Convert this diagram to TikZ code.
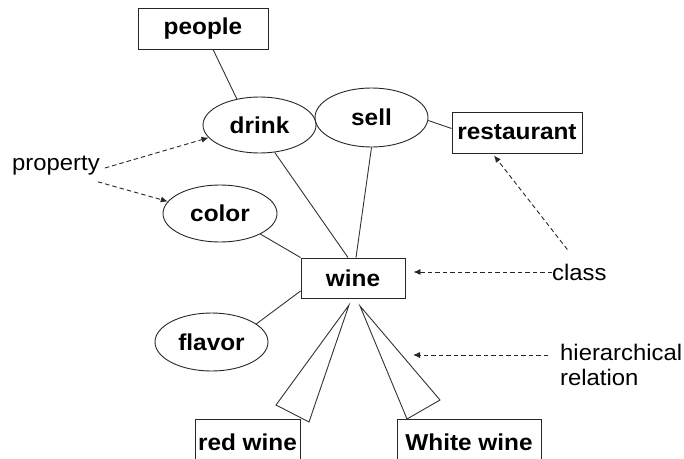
\documentclass[tikz,border=0pt]{standalone}
\usepackage{fontspec}
\setmainfont{Liberation Sans}[FakeStretch=1.06]
\usetikzlibrary{shapes.geometric,arrows.meta}
\begin{document}
\begin{tikzpicture}[x=1pt,y=-1pt,
  edge/.style={draw=black!80,line width=0.9pt},
  concept/.style={draw=black!85,line width=0.9pt,font=\fontsize{23}{25}\selectfont\bfseries,inner sep=0pt},
  box/.style={concept,rectangle},
  oval/.style={concept,ellipse},
  note/.style={font=\fontsize{22.5}{25}\selectfont,inner sep=0pt,align=left},
  pointer/.style={draw=black!85,line width=0.9pt,dash pattern=on 4.5pt off 3pt,-{Latex[length=7pt,width=6pt]}},
]
\useasboundingbox (0,0) rectangle (684,458);
\clip (0,0) rectangle (684,458);

% concepts
\node[box,minimum width=130,minimum height=41] (people) at (203,28.5) {people};
\node[oval,minimum width=113,minimum height=56] (drink) at (259.5,125) {drink};
\node[oval,minimum width=113,minimum height=59] (sell) at (371.5,117.5) {sell};
\node[box,minimum width=130,minimum height=41] (restaurant) at (517,132.5) {restaurant};
\node[oval,minimum width=114,minimum height=57] (color) at (220,213.5) {color};
\node[box,minimum width=104,minimum height=40] (wine) at (353,278) {wine};
\node[oval,minimum width=113,minimum height=58] (flavor) at (211.5,342) {flavor};
\node[box,anchor=north,minimum width=105,minimum height=46] (redwine) at (247.5,419) {red wine};
\node[box,anchor=north,minimum width=144,minimum height=46] (whitewine) at (469,419) {White wine};

% legend labels
\node[note,anchor=west] (property) at (12,166) {property};
\node[note,anchor=west] (class) at (552,272) {class};
\node[note,anchor=north west] (hier) at (560,344) {hierarchical\\relation};

% relations
\draw[edge] (people) -- (drink.131);
\draw[edge] (drink.299) -- ([xshift=-5pt]wine.north);
\draw[edge] (sell.south) -- ([xshift=3pt]wine.north);
\draw[edge] (sell.-3) -- ([yshift=4pt]restaurant.west);
\draw[edge] (color.-27) -- (wine.north west);
\draw[edge] (flavor.22) -- ([yshift=-13pt]wine.west);

% hierarchy wedges
\draw[edge,fill=white] (349,305) -- (276,405) -- (309,422) -- cycle;
\draw[edge,fill=white] (360,306) -- (407,419) -- (440,400) -- cycle;

% legend pointers
\draw[pointer] ([shift={(5,2)}]property.east) -- (drink.194);
\draw[pointer] ([shift={(-2,6)}]property.south east) -- (color.167);
\draw[pointer,shorten >=8pt] (class.west) -- (class.west -| wine.east);
\draw[pointer] ([shift={(-12,-14)}]class.north) -- ([shift={(-23,2)}]restaurant.south);
\draw[pointer] ([shift={(-12,11)}]hier.north west) -- ++(-135,0);
\end{tikzpicture}
\end{document}
